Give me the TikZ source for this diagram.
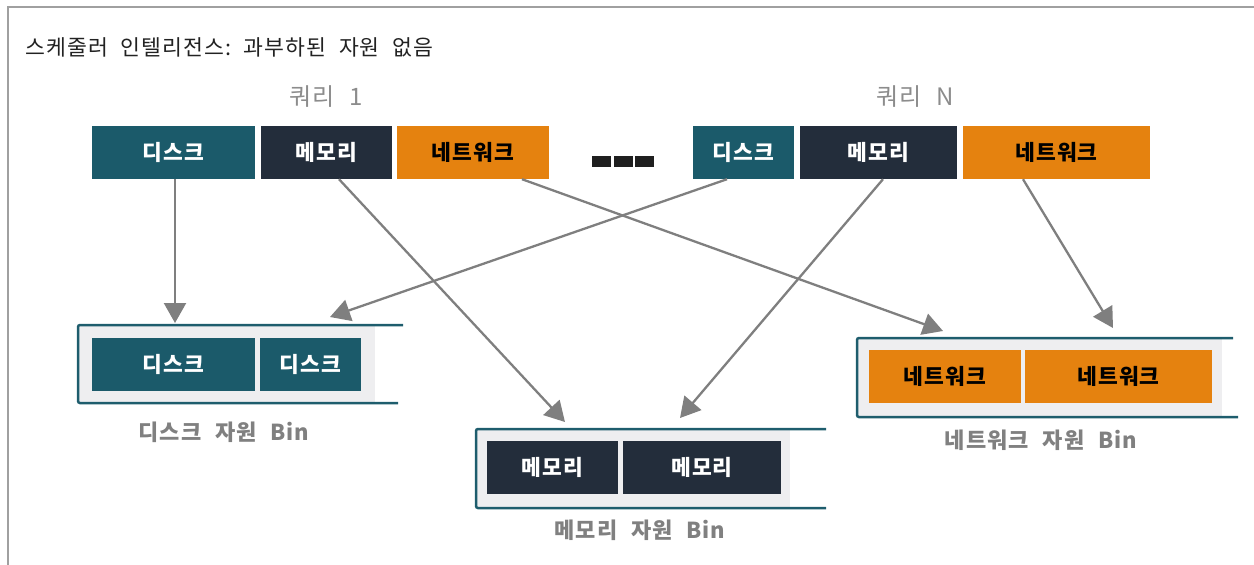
\documentclass[tikz,border=0pt]{standalone}
\usepackage{fontspec}
\setmainfont{Noto Sans CJK KR}[LetterSpace=5]
\usetikzlibrary{arrows.meta}
\definecolor{teal}{HTML}{1B5A6A}
\definecolor{darkbox}{HTML}{232D3B}
\definecolor{orangebox}{HTML}{E5820F}
\definecolor{binfill}{HTML}{EEEEF0}
\definecolor{binline}{HTML}{1E5D6D}
\definecolor{arrowgray}{HTML}{7F7F7F}
\definecolor{framegray}{HTML}{A0A0A0}
\definecolor{labelgray}{HTML}{808080}
\definecolor{querygray}{HTML}{8C8C8C}
\definecolor{titlecol}{HTML}{222222}
\newcommand{\wsp}{\hspace{0.62em}}
\tikzset{
  res/.style={rectangle, inner sep=0pt, minimum height=53pt, font=\fontsize{21.5}{24}\selectfont\bfseries},
  diskbox/.style={res, fill=teal, text=white},
  membox/.style={res, fill=darkbox, text=white},
  netbox/.style={res, fill=orangebox, text=black},
  conn/.style={draw=arrowgray, line width=2.3pt, -{Triangle[length=20pt,width=22pt]}},
  binlabel/.style={font=\fontsize{22}{24}\selectfont\bfseries, text=labelgray, inner sep=0pt},
  querylabel/.style={font=\fontsize{24}{26}\selectfont, text=querygray, inner sep=0pt},
  binedge/.style={draw=binline, line width=2.5pt, rounded corners=2pt},
  dashbox/.style={rectangle, fill=black!88, inner sep=0pt, minimum width=19pt, minimum height=11pt}
}
\begin{document}
\begin{tikzpicture}[x=1pt,y=-1pt]
\useasboundingbox (0,0) rectangle (1254,565);
% frame
\draw[framegray, line width=2pt] (8,570) -- (8,7) -- (1260,7);
% title
\node[anchor=west, inner sep=0pt, font=\fontsize{21.6}{24}\selectfont, text=titlecol] (title) at (25,47) {스케줄러\hspace{0.58em}인텔리전스:\hspace{0.58em}과부하된\hspace{0.58em}자원\hspace{0.58em}없음};
% query labels
\node[querylabel] (q1) at (326,97) {쿼리\wsp 1};
\node[querylabel] (qn) at (915,97) {쿼리\wsp N};
% top boxes
\node[diskbox, minimum width=163pt] (disk1) at (173.5,152.5) {디스크};
\node[membox, minimum width=131pt] (mem1) at (326.5,152.5) {메모리};
\node[netbox, minimum width=152pt] (net1) at (473,152.5) {네트워크};
\node[dashbox] (d1) at (601.5,161.5) {};
\node[dashbox] (d2) at (623.5,161.5) {};
\node[dashbox] (d3) at (644.5,161.5) {};
\node[diskbox, minimum width=101pt] (diskN) at (743.5,152.5) {디스크};
\node[membox, minimum width=157pt] (memN) at (878.5,152.5) {메모리};
\node[netbox, minimum width=187pt] (netN) at (1056.5,152.5) {네트워크};
% disk bin
\fill[binfill] (78,325) rectangle (375,403);
\draw[binedge] (403,325) -- (78,325) -- (78,403) -- (398,403);
\node[diskbox, minimum width=163pt] (diskA) at (173.5,364.5) {디스크};
\node[diskbox, minimum width=101pt] (diskB) at (310.5,364.5) {디스크};
\node[binlabel] (diskbin) at (224,432) {디스크\wsp 자원\wsp Bin};
% memory bin
\fill[binfill] (476,429) rectangle (790,508);
\draw[binedge] (826,429) -- (476,429) -- (476,508) -- (826,508);
\node[membox, minimum width=131pt] (memA) at (552.5,467.5) {메모리};
\node[membox, minimum width=158pt] (memB) at (702,467.5) {메모리};
\node[binlabel] (membin) at (640,530) {메모리\wsp 자원\wsp Bin};
% network bin
\fill[binfill] (857,338) rectangle (1222,417);
\draw[binedge] (1233,338) -- (857,338) -- (857,417) -- (1238,417);
\node[netbox, minimum width=152pt] (netA) at (945,376.5) {네트워크};
\node[netbox, minimum width=187pt] (netB) at (1118.5,376.5) {네트워크};
\node[binlabel] (netbin) at (1041,440) {네트워크\wsp 자원\wsp Bin};
% arrow end points
\coordinate (tDisk1) at (175,323);
\coordinate (tDiskN) at (330,317);
\coordinate (tMem1) at (565,422);
\coordinate (tMemN) at (680,418);
\coordinate (tNet1) at (943,331);
\coordinate (tNetN) at (1113,328);
% connectors
\draw[conn] ([xshift=1.5pt]disk1.south) -- (tDisk1);
\draw[conn] ([xshift=12.5pt]mem1.south) -- (tMem1);
\draw[conn] ([xshift=49pt]net1.south) -- (tNet1);
\draw[conn] ([xshift=-16.5pt]diskN.south) -- (tDiskN);
\draw[conn] ([xshift=4.5pt]memN.south) -- (tMemN);
\draw[conn] ([xshift=-33.5pt]netN.south) -- (tNetN);
\end{tikzpicture}
\end{document}
